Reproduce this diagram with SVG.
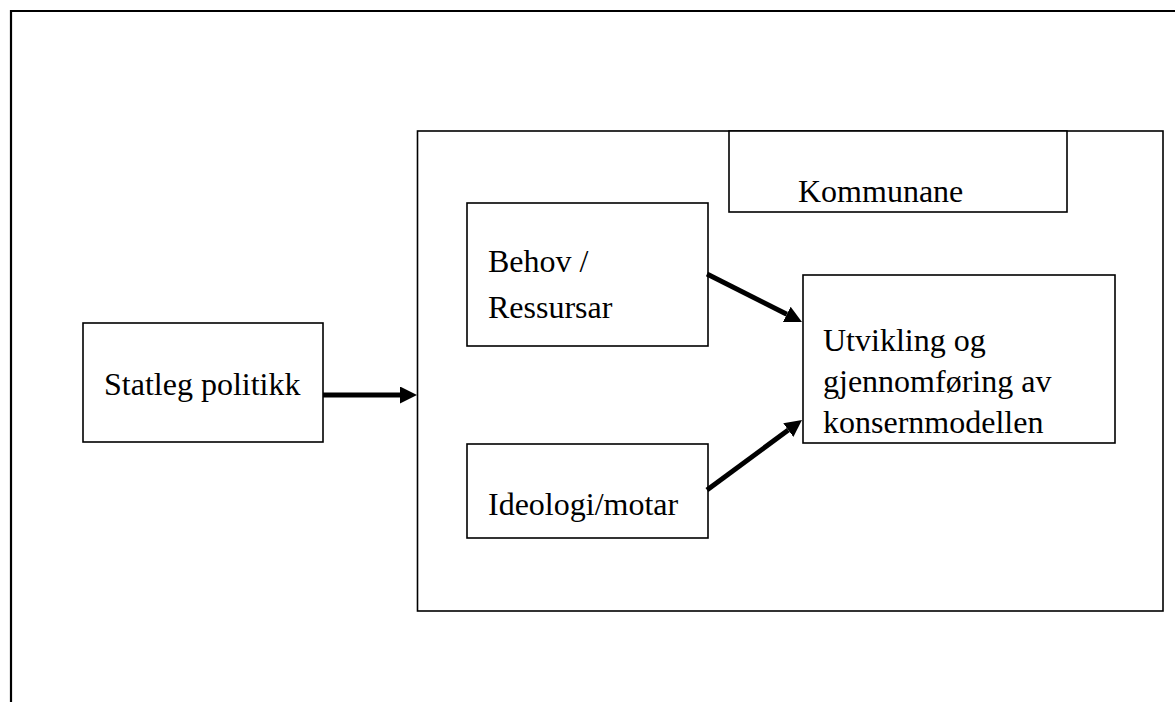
<svg xmlns="http://www.w3.org/2000/svg" width="1175" height="702" viewBox="0 0 1175 702">
<defs>
<style>
.box{fill:#fff;stroke:#000;stroke-width:1.6}
.frame{fill:none;stroke:#000;stroke-width:2.2}
.lbl{font-family:"Liberation Serif","Times New Roman",serif;font-size:32px;fill:#000}
.arr{stroke:#000;stroke-width:5;fill:none;marker-end:url(#ah)}
</style>
<marker id="ah" markerWidth="3.4" markerHeight="3.4" refX="0" refY="1.7" orient="auto" markerUnits="strokeWidth">
<path d="M0,0 L3.4,1.7 L0,3.4 z" fill="#000"/>
</marker>
</defs>
<rect width="1175" height="702" fill="#fff"/>
<path class="frame" d="M11,702 L11,11 L1176,11"/>
<g id="kommunar-ramme">
<rect class="box" x="417.5" y="131" width="745.5" height="480"/>
</g>
<g id="kommunane">
<rect class="box" x="729" y="131" width="338" height="81"/>
<text class="lbl" x="798" y="202">Kommunane</text>
</g>
<g id="statleg">
<rect class="box" x="83" y="323" width="240" height="119"/>
<text class="lbl" x="104" y="395">Statleg politikk</text>
</g>
<g id="behov">
<rect class="box" x="467" y="203" width="241" height="143"/>
<text class="lbl" x="488" y="272">Behov /</text>
<text class="lbl" x="488" y="318">Ressursar</text>
</g>
<g id="ideologi">
<rect class="box" x="467" y="444" width="241" height="94"/>
<text class="lbl" x="488" y="515">Ideologi/motar</text>
</g>
<g id="utvikling">
<rect class="box" x="803" y="275" width="312" height="168"/>
<text class="lbl" x="823" y="351">Utvikling og</text>
<text class="lbl" x="823" y="392">gjennomføring av</text>
<text class="lbl" x="823" y="433">konsernmodellen</text>
</g>
<g id="connectors">
<line class="arr" x1="323" y1="395" x2="400" y2="395"/>
<line class="arr" x1="707" y1="274" x2="786.8" y2="314.3"/>
<line class="arr" x1="707" y1="490" x2="788.3" y2="430.1"/>
</g>
</svg>
